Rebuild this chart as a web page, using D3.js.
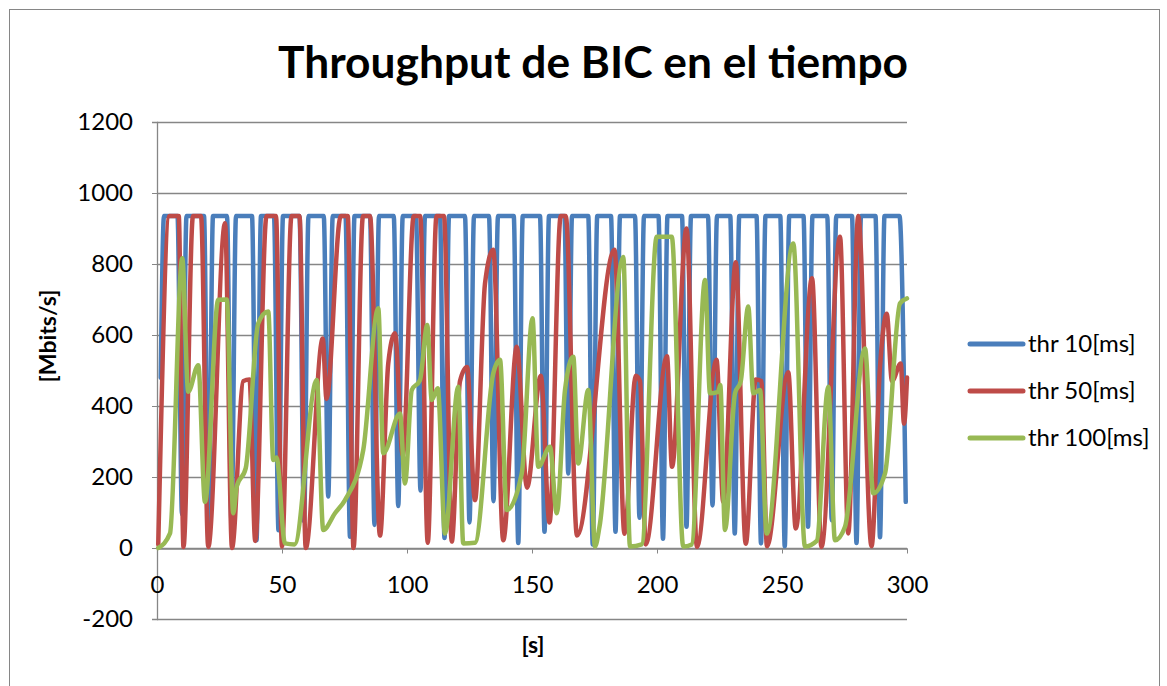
<!DOCTYPE html>
<html>
<head>
<meta charset="utf-8">
<script src="https://cdn.jsdelivr.net/npm/d3@7"></script>
<style>
  body { margin: 0; background: #fff; }
  text { font-family: Lato, "Open Sans", sans-serif; fill: #000; }
</style>
</head>
<body>
<div id="chart"></div>
<script>
// Data: [time (s), throughput (Mbits/s)]
const thr10 = [
  [1.5,480],[2.8,935],
  [8.2,935],[10.0,95],[11.8,935],
  [18.8,935],[20.6,20],[22.4,935],
  [28.0,935],[29.8,75],[31.6,935],
  [38.0,935],[39.8,22],[41.6,935],
  [46.8,935],[48.6,50],[50.4,935],
  [57.0,935],[58.8,75],[60.6,935],
  [66.7,935],[68.5,145],[70.3,935],
  [75.4,935],[77.2,32],[79.0,935],
  [85.2,935],[87.0,65],[88.8,935],
  [94.7,935],[96.5,118],[98.3,935],
  [103.6,935],[105.4,162],[107.2,935],
  [113.2,935],[115.0,28],[116.8,935],
  [123.2,935],[125.0,72],[126.8,935],
  [132.8,935],[134.6,132],[136.4,935],
  [142.7,935],[144.5,14],[146.3,935],
  [153.2,935],[155.0,46],[156.8,935],
  [163.0,935],[164.5,210],[166.0,935],
  [172.5,935],[174.3,10],[176.1,935],
  [181.6,935],[183.4,46],[185.2,935],
  [191.2,935],[193.0,85],[194.8,935],
  [200.6,935],[202.4,26],[204.2,935],
  [210.0,935],[211.8,60],[213.6,935],
  [220.4,935],[222.2,120],[224.0,935],
  [229.3,935],[231.1,41],[232.9,935],
  [239.8,935],[241.6,13],[243.4,935],
  [249.3,935],[251.1,5],[252.9,935],
  [258.6,935],[260.4,60],[262.2,935],
  [268.1,935],[269.9,78],[271.7,935],
  [278.0,935],[279.8,14],[281.6,935],
  [287.4,935],[289.2,30],[291.0,935],
  [297.0,935],[299.5,130]
];

const thr50 = [
  [0.5,10],[5,935],[8.7,935],[10.6,3],[14.4,935],[17.6,935],[20.5,3],
  [27.2,915],[30,0],[34.5,470],[37,475],[39.3,20],[43.8,935],[47.6,935],
  [50,4],[53.8,935],[57,935],[59.5,0],[66.3,590],[67.8,420],[73.5,935],
  [76.3,935],[78.6,0],[82.4,935],[85.2,935],[89.2,35],[92.5,520],[95.2,605],
  [98.3,260],[102.7,935],[105.3,935],[108.3,15],[111.8,935],[114.8,935],
  [117.9,18],[121.2,470],[124,510],[127.2,135],[131.2,745],[134.5,840],
  [138.5,22],[143.9,567],[148,170],[153.5,485],[157,72],[161.5,935],
  [163.5,935],[168,35],[183,840],[187,40],[191.5,485],[193.2,470],
  [195.5,10],[204,540],[206,229],[211.8,900],[216,3],[223.8,530],
  [226.5,130],[231.5,805],[235.5,12],[239.5,475],[241.8,470],[244,5],
  [252.5,495],[255.5,55],[262,760],[265.8,3],[273.2,877],[276.5,41],
  [280.5,935],[285.8,5],[289.2,510],[291.9,660],[294,470],[297.5,520],
  [298.8,350],[300,480]
];

const thr100 = [
  [0.5,0],[5.2,41],[10.1,816],[12.5,440],[16.5,515],[19.2,130],[24.5,699],
  [27.9,700],[30.5,98],[31.9,173],[35.5,225],[40.5,633],[44.5,666],
  [46.5,248],[47.8,255],[51.2,13],[55,10],[63.9,473],[66.5,51],[71.2,98],
  [75.2,135],[82.5,276],[88.5,675],[90.5,267],[97.2,379],[99.2,182],
  [101.9,445],[105.2,473],[108.1,628],[109.9,417],[112.3,450],[115.2,41],
  [120.5,454],[122.5,13],[127.2,15],[134.5,492],[137.2,530],[139.9,107],
  [145.9,210],[150.2,647],[152.5,229],[157.2,285],[159.9,98],[163.2,445],
  [166.5,539],[168.5,238],[172.5,445],[175.2,4],[177,60],[186.5,820],
  [189.2,4],[193.9,10],[199.9,877],[205.9,877],[210.5,4],[213.9,10],
  [219.2,755],[221.2,436],[224.5,440],[225.3,459],[227.2,51],[231.2,436],
  [233.5,470],[236.5,680],[238.5,436],[241.2,445],[243.9,41],[254.5,858],
  [259.2,4],[263.9,20],[268.5,454],[271.2,22],[275.2,60],[283.2,562],
  [286.5,154],[291.2,210],[297.2,689],[300,703]
];

const seriesNames = ["thr 10[ms]", "thr 50[ms]", "thr 100[ms]"];
const seriesColors = ["#4A7EBB", "#BE4B48", "#98B954"];
const yTicks = [-200, 0, 200, 400, 600, 800, 1000, 1200];
const xTicks = [0, 50, 100, 150, 200, 250, 300];

const width = 1167;
const height = 686;

const svg = d3.select("#chart").append("svg")
    .attr("width", width)
    .attr("height", height);

// chart frame
svg.append("rect")
    .attr("x", 9.5)
    .attr("y", 9.5)
    .attr("width", 1150)
    .attr("height", 700)
    .attr("fill", "#fff")
    .attr("stroke", "#868686")
    .attr("stroke-width", 1);

const x = d3.scaleLinear().domain([0, 300]).range([157, 907]);
const y = d3.scaleLinear().domain([-200, 1200]).range([619, 122]);

// gridlines
svg.append("g")
    .selectAll("line")
    .data(yTicks)
    .enter()
    .append("line")
    .attr("x1", x(0))
    .attr("x2", x(300))
    .attr("y1", d => Math.round(y(d)) + 0.5)
    .attr("y2", d => Math.round(y(d)) + 0.5)
    .attr("stroke", "#868686")
    .attr("stroke-width", 1.3);

// y axis
const yAxis = svg.append("g")
    .attr("transform", `translate(${x(0)},0)`)
    .call(d3.axisLeft(y).tickValues(yTicks).tickFormat(d => String(d)).tickSize(5).tickPadding(19));
yAxis.select(".domain").attr("stroke", "#868686").attr("stroke-width", 1.3);
yAxis.selectAll(".tick line").attr("stroke", "#868686");
yAxis.selectAll(".tick text")
    .style("font-family", "Lato, 'Open Sans', sans-serif")
    .style("font-size", "24px")
    .attr("fill", "#000");

// x axis, crossing at 0
const xAxis = svg.append("g")
    .attr("transform", `translate(0,${Math.round(y(0)) + 0.5})`)
    .call(d3.axisBottom(x).tickValues(xTicks).tickFormat(d => String(d)).tickSize(5).tickSizeOuter(0).tickPadding(22));
xAxis.select(".domain").attr("stroke", "#868686").attr("stroke-width", 1.3);
xAxis.selectAll(".tick line").attr("stroke", "#868686");
xAxis.selectAll(".tick text")
    .style("font-family", "Lato, 'Open Sans', sans-serif")
    .style("font-size", "24px")
    .attr("fill", "#000");

// lines
const line = d3.line()
    .x(d => x(d[0]))
    .y(d => y(d[1]))
    .curve(d3.curveMonotoneX);

[thr10, thr50, thr100].forEach((data, i) => {
    svg.append("path")
        .datum(data)
        .attr("d", line)
        .attr("fill", "none")
        .attr("stroke", seriesColors[i])
        .attr("stroke-width", 4.5)
        .attr("stroke-linejoin", "round")
        .attr("stroke-linecap", "round");
});

// title
svg.append("text")
    .attr("x", 593)
    .attr("y", 78)
    .attr("text-anchor", "middle")
    .attr("textLength", 630)
    .attr("lengthAdjust", "spacingAndGlyphs")
    .style("font-size", "43px")
    .style("font-weight", 700)
    .text("Throughput de BIC en el tiempo");

// axis titles
svg.append("text")
    .attr("transform", "translate(56,336) rotate(-90)")
    .attr("text-anchor", "middle")
    .style("font-size", "23px")
    .style("font-weight", 700)
    .text("[Mbits/s]");

svg.append("text")
    .attr("x", 533)
    .attr("y", 653)
    .attr("text-anchor", "middle")
    .style("font-size", "23px")
    .style("font-weight", 700)
    .text("[s]");

// legend
const legend = svg.append("g")
    .selectAll("g")
    .data(seriesNames)
    .enter()
    .append("g")
    .attr("transform", (d, i) => `translate(970,${344 + i * 47})`);

legend.append("line")
    .attr("x1", 0)
    .attr("x2", 53)
    .attr("stroke", (d, i) => seriesColors[i])
    .attr("stroke-width", 5)
    .attr("stroke-linecap", "round");

legend.append("text")
    .attr("x", 58)
    .attr("dy", "0.35em")
    .style("font-size", "24px")
    .text(d => d);
</script>
</body>
</html>
